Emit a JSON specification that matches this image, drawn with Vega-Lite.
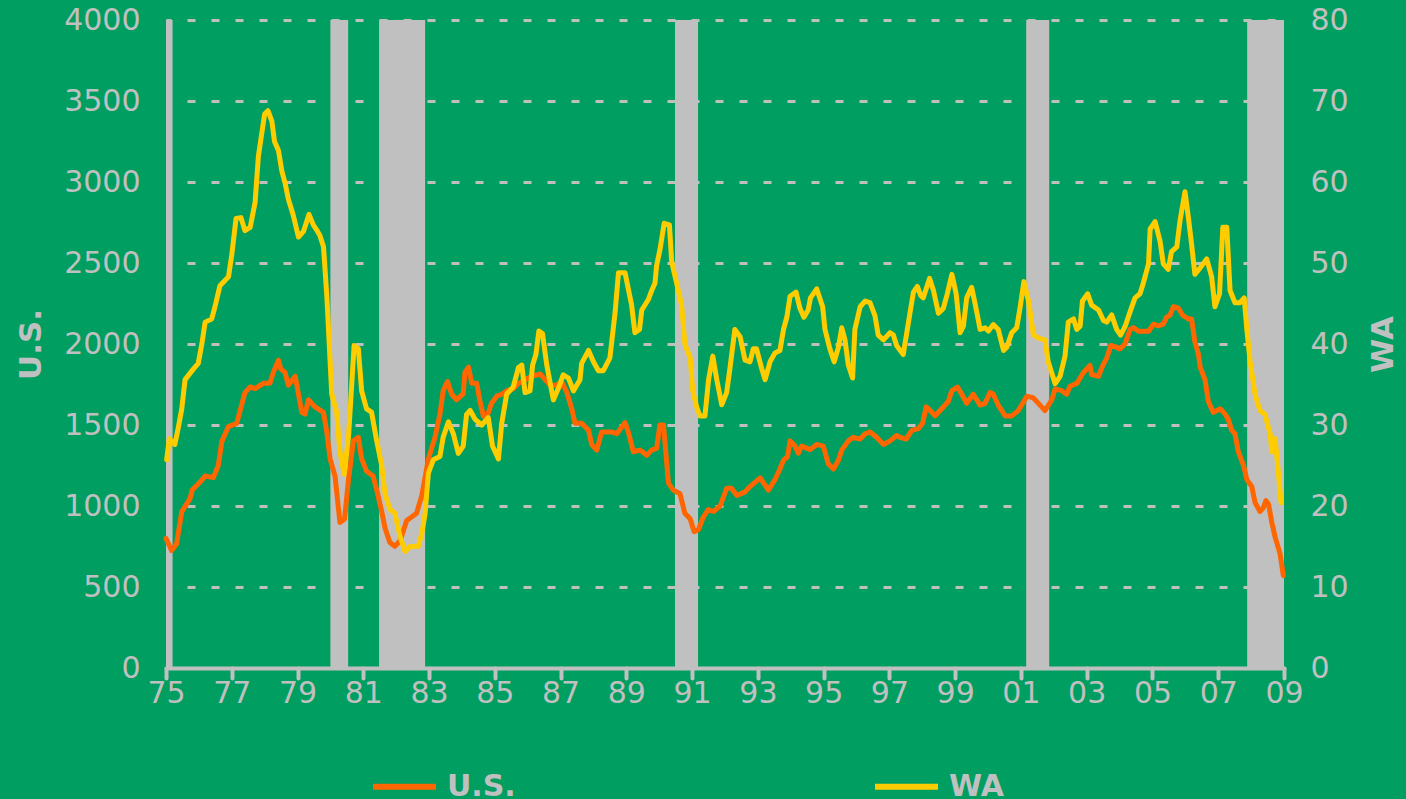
{
  "$schema": "https://vega.github.io/schema/vega-lite/v6.json",
  "autosize": {"type": "none"},
  "width": 1118,
  "height": 648,
  "padding": {"left": 166, "top": 20, "right": 122, "bottom": 131},
  "background": "#009E60",
  "config": {
    "view": {"stroke": null},
    "axis": {
      "labelFont": "DejaVu Sans", "labelFontSize": 30, "labelColor": "#C0C0C0",
      "titleFont": "DejaVu Sans", "titleFontSize": 31, "titleFontWeight": "bold", "titleColor": "#C0C0C0"
    },
    "legend": {
      "orient": "none", "legendX": 204, "legendY": 732, "direction": "horizontal",
      "symbolType": "stroke", "symbolSize": 3969, "symbolStrokeWidth": 6,
      "labelFont": "DejaVu Sans", "labelFontSize": 30, "labelFontWeight": "bold", "labelColor": "#C0C0C0",
      "labelOffset": 8, "columnPadding": 347, "padding": 0
    }
  },
  "datasets": {
    "rec": [
      {"t": 1975.0, "t2": 1975.2},
      {"t": 1980.0, "t2": 1980.54},
      {"t": 1981.48, "t2": 1982.88},
      {"t": 1990.48, "t2": 1991.18},
      {"t": 2001.16, "t2": 2001.86},
      {"t": 2007.88, "t2": 2009.0}
    ],
    "us": [
      {"t":1975.0,"v":800},{"t":1975.17,"v":725},{"t":1975.32,"v":765},{"t":1975.48,"v":965},{"t":1975.73,"v":1045},{"t":1975.8,"v":1100},
      {"t":1976.0,"v":1140},{"t":1976.19,"v":1185},{"t":1976.44,"v":1175},{"t":1976.59,"v":1250},{"t":1976.7,"v":1400},{"t":1976.9,"v":1490},
      {"t":1977.15,"v":1510},{"t":1977.4,"v":1700},{"t":1977.56,"v":1735},{"t":1977.71,"v":1725},{"t":1977.96,"v":1757},
      {"t":1978.16,"v":1757},{"t":1978.27,"v":1828},{"t":1978.42,"v":1900},{"t":1978.49,"v":1846},{"t":1978.62,"v":1824},{"t":1978.72,"v":1746},{"t":1978.93,"v":1801},
      {"t":1979.13,"v":1578},{"t":1979.23,"v":1567},{"t":1979.33,"v":1656},{"t":1979.53,"v":1612},{"t":1979.79,"v":1578},{"t":1979.89,"v":1457},{"t":1979.99,"v":1291},
      {"t":1980.14,"v":1185},{"t":1980.29,"v":898},{"t":1980.43,"v":920},{"t":1980.55,"v":1163},{"t":1980.7,"v":1402},{"t":1980.85,"v":1424},{"t":1980.95,"v":1291},
      {"t":1981.1,"v":1215},{"t":1981.3,"v":1185},{"t":1981.41,"v":1098},{"t":1981.56,"v":966},{"t":1981.66,"v":864},{"t":1981.81,"v":774},{"t":1981.96,"v":751},
      {"t":1982.12,"v":785},{"t":1982.32,"v":910},{"t":1982.47,"v":932},{"t":1982.62,"v":955},{"t":1982.78,"v":1065},{"t":1982.98,"v":1291},
      {"t":1983.18,"v":1424},{"t":1983.33,"v":1565},{"t":1983.43,"v":1712},{"t":1983.56,"v":1768},{"t":1983.69,"v":1690},{"t":1983.84,"v":1656},
      {"t":1984.04,"v":1694},{"t":1984.09,"v":1824},{"t":1984.2,"v":1857},{"t":1984.3,"v":1757},{"t":1984.45,"v":1757},{"t":1984.55,"v":1645},{"t":1984.65,"v":1556},{"t":1984.75,"v":1545},{"t":1984.9,"v":1634},
      {"t":1985.06,"v":1678},{"t":1985.21,"v":1690},{"t":1985.36,"v":1712},{"t":1985.56,"v":1723},{"t":1985.72,"v":1757},{"t":1985.92,"v":1779},
      {"t":1986.12,"v":1801},{"t":1986.38,"v":1815},{"t":1986.53,"v":1780},{"t":1986.68,"v":1746},{"t":1986.88,"v":1746},
      {"t":1987.03,"v":1768},{"t":1987.19,"v":1701},{"t":1987.34,"v":1600},{"t":1987.44,"v":1511},{"t":1987.64,"v":1511},{"t":1987.85,"v":1467},{"t":1987.95,"v":1378},
      {"t":1988.1,"v":1345},{"t":1988.25,"v":1457},{"t":1988.4,"v":1457},{"t":1988.55,"v":1457},{"t":1988.71,"v":1446},{"t":1988.96,"v":1515},
      {"t":1989.06,"v":1457},{"t":1989.21,"v":1335},{"t":1989.42,"v":1345},{"t":1989.62,"v":1313},{"t":1989.77,"v":1345},{"t":1989.92,"v":1356},
      {"t":1990.02,"v":1500},{"t":1990.13,"v":1500},{"t":1990.28,"v":1141},{"t":1990.43,"v":1098},{"t":1990.63,"v":1076},{"t":1990.78,"v":955},{"t":1990.94,"v":921},
      {"t":1991.06,"v":842},{"t":1991.19,"v":853},{"t":1991.34,"v":932},{"t":1991.49,"v":978},{"t":1991.65,"v":966},{"t":1991.85,"v":1000},
      {"t":1992.05,"v":1109},{"t":1992.2,"v":1109},{"t":1992.36,"v":1065},{"t":1992.61,"v":1087},{"t":1992.76,"v":1120},
      {"t":1993.07,"v":1174},{"t":1993.32,"v":1098},{"t":1993.52,"v":1163},{"t":1993.67,"v":1228},{"t":1993.78,"v":1283},{"t":1993.9,"v":1304},{"t":1993.98,"v":1402},
      {"t":1994.13,"v":1370},{"t":1994.23,"v":1326},{"t":1994.33,"v":1370},{"t":1994.59,"v":1348},{"t":1994.79,"v":1380},{"t":1994.99,"v":1370},
      {"t":1995.14,"v":1261},{"t":1995.3,"v":1228},{"t":1995.45,"v":1283},{"t":1995.55,"v":1345},{"t":1995.75,"v":1402},{"t":1995.9,"v":1424},
      {"t":1996.11,"v":1413},{"t":1996.26,"v":1446},{"t":1996.41,"v":1457},{"t":1996.61,"v":1424},{"t":1996.82,"v":1380},
      {"t":1997.02,"v":1402},{"t":1997.22,"v":1435},{"t":1997.32,"v":1424},{"t":1997.51,"v":1413},{"t":1997.68,"v":1467},{"t":1997.88,"v":1478},
      {"t":1998.01,"v":1511},{"t":1998.12,"v":1612},{"t":1998.19,"v":1600},{"t":1998.39,"v":1556},{"t":1998.59,"v":1600},{"t":1998.79,"v":1645},{"t":1998.9,"v":1712},
      {"t":1999.07,"v":1734},{"t":1999.2,"v":1690},{"t":1999.35,"v":1634},{"t":1999.55,"v":1690},{"t":1999.76,"v":1623},{"t":1999.91,"v":1634},
      {"t":2000.06,"v":1701},{"t":2000.16,"v":1690},{"t":2000.31,"v":1623},{"t":2000.52,"v":1556},{"t":2000.72,"v":1556},{"t":2000.92,"v":1589},
      {"t":2001.18,"v":1678},{"t":2001.38,"v":1667},{"t":2001.58,"v":1623},{"t":2001.73,"v":1589},{"t":2001.94,"v":1656},
      {"t":2002.04,"v":1723},{"t":2002.24,"v":1712},{"t":2002.39,"v":1690},{"t":2002.49,"v":1739},{"t":2002.7,"v":1757},{"t":2002.9,"v":1824},
      {"t":2003.1,"v":1868},{"t":2003.15,"v":1812},{"t":2003.36,"v":1801},{"t":2003.49,"v":1868},{"t":2003.61,"v":1913},{"t":2003.73,"v":1991},{"t":2003.91,"v":1980},
      {"t":2004.01,"v":1969},{"t":2004.17,"v":2002},{"t":2004.32,"v":2090},{"t":2004.42,"v":2101},{"t":2004.57,"v":2079},{"t":2004.88,"v":2079},
      {"t":2005.03,"v":2122},{"t":2005.18,"v":2112},{"t":2005.33,"v":2122},{"t":2005.43,"v":2166},{"t":2005.53,"v":2177},{"t":2005.64,"v":2231},{"t":2005.79,"v":2221},{"t":2005.92,"v":2177},
      {"t":2006.09,"v":2155},{"t":2006.19,"v":2155},{"t":2006.29,"v":2013},{"t":2006.4,"v":1935},{"t":2006.45,"v":1857},{"t":2006.6,"v":1779},{"t":2006.7,"v":1645},{"t":2006.85,"v":1578},
      {"t":2007.06,"v":1600},{"t":2007.21,"v":1567},{"t":2007.31,"v":1533},{"t":2007.41,"v":1467},{"t":2007.51,"v":1446},{"t":2007.61,"v":1335},{"t":2007.77,"v":1250},{"t":2007.87,"v":1163},
      {"t":2008.02,"v":1120},{"t":2008.12,"v":1022},{"t":2008.27,"v":966},{"t":2008.37,"v":989},{"t":2008.45,"v":1033},{"t":2008.53,"v":1011},{"t":2008.63,"v":898},{"t":2008.73,"v":808},{"t":2008.88,"v":706},{"t":2008.98,"v":570}
    ],
    "wa": [
      {"t":1975.02,"v":25.7},{"t":1975.1,"v":28.3},{"t":1975.27,"v":27.6},{"t":1975.37,"v":29.6},{"t":1975.48,"v":32},{"t":1975.58,"v":35.6},{"t":1975.83,"v":36.9},{"t":1975.98,"v":37.6},
      {"t":1976.09,"v":40},{"t":1976.19,"v":42.7},{"t":1976.39,"v":43.1},{"t":1976.49,"v":44.6},{"t":1976.64,"v":47.2},{"t":1976.9,"v":48.3},
      {"t":1977.0,"v":51},{"t":1977.13,"v":55.5},{"t":1977.28,"v":55.6},{"t":1977.4,"v":54},{"t":1977.56,"v":54.4},{"t":1977.71,"v":57.5},{"t":1977.81,"v":63.2},
      {"t":1978.0,"v":68.4},{"t":1978.1,"v":68.8},{"t":1978.22,"v":67.5},{"t":1978.3,"v":65},{"t":1978.42,"v":63.9},{"t":1978.52,"v":61.4},{"t":1978.62,"v":59.9},{"t":1978.72,"v":57.9},{"t":1978.87,"v":55.9},
      {"t":1979.03,"v":53.2},{"t":1979.18,"v":53.9},{"t":1979.35,"v":56},{"t":1979.48,"v":54.7},{"t":1979.58,"v":54.1},{"t":1979.68,"v":53.4},{"t":1979.79,"v":52},{"t":1979.89,"v":46},
      {"t":1980.04,"v":33.8},{"t":1980.19,"v":31.6},{"t":1980.29,"v":26.7},{"t":1980.42,"v":23.9},{"t":1980.55,"v":28.5},{"t":1980.65,"v":35.1},{"t":1980.72,"v":39.8},{"t":1980.85,"v":39.4},{"t":1980.95,"v":34.2},
      {"t":1981.1,"v":32},{"t":1981.25,"v":31.6},{"t":1981.41,"v":28},{"t":1981.56,"v":25},{"t":1981.66,"v":21.5},{"t":1981.81,"v":19.6},{"t":1981.96,"v":19.1},
      {"t":1982.12,"v":16.2},{"t":1982.27,"v":14.4},{"t":1982.42,"v":15},{"t":1982.67,"v":15},{"t":1982.78,"v":16.6},{"t":1982.88,"v":19.1},{"t":1982.98,"v":24.1},
      {"t":1983.13,"v":25.7},{"t":1983.33,"v":26.1},{"t":1983.43,"v":28.5},{"t":1983.59,"v":30.4},{"t":1983.74,"v":28.9},{"t":1983.89,"v":26.5},
      {"t":1984.04,"v":27.4},{"t":1984.14,"v":31.3},{"t":1984.25,"v":31.8},{"t":1984.4,"v":30.7},{"t":1984.6,"v":30},{"t":1984.8,"v":30.9},{"t":1984.93,"v":27.4},
      {"t":1985.11,"v":25.8},{"t":1985.21,"v":30.2},{"t":1985.36,"v":33.8},{"t":1985.56,"v":34.7},{"t":1985.72,"v":37.1},{"t":1985.82,"v":37.4},{"t":1985.92,"v":34},
      {"t":1986.07,"v":34.2},{"t":1986.15,"v":37.4},{"t":1986.25,"v":38.7},{"t":1986.34,"v":41.6},{"t":1986.45,"v":41.3},{"t":1986.58,"v":37.4},{"t":1986.78,"v":33.1},{"t":1986.93,"v":34.5},
      {"t":1987.08,"v":36.2},{"t":1987.24,"v":35.8},{"t":1987.39,"v":34.2},{"t":1987.59,"v":35.6},{"t":1987.64,"v":37.6},{"t":1987.85,"v":39.2},
      {"t":1988.0,"v":37.8},{"t":1988.15,"v":36.7},{"t":1988.3,"v":36.7},{"t":1988.5,"v":38.3},{"t":1988.66,"v":44},{"t":1988.76,"v":48.8},{"t":1988.96,"v":48.8},
      {"t":1989.16,"v":44.8},{"t":1989.26,"v":41.4},{"t":1989.4,"v":41.8},{"t":1989.47,"v":44.2},{"t":1989.67,"v":45.5},{"t":1989.77,"v":46.6},{"t":1989.87,"v":47.5},{"t":1989.92,"v":49.7},
      {"t":1990.02,"v":51.6},{"t":1990.15,"v":54.9},{"t":1990.31,"v":54.7},{"t":1990.38,"v":50.1},{"t":1990.53,"v":47.5},{"t":1990.68,"v":44.8},{"t":1990.78,"v":40},{"t":1990.94,"v":38.3},
      {"t":1991.02,"v":34.2},{"t":1991.14,"v":32.2},{"t":1991.24,"v":31.1},{"t":1991.39,"v":31.1},{"t":1991.5,"v":35.6},{"t":1991.63,"v":38.5},{"t":1991.75,"v":35.6},{"t":1991.9,"v":32.5},
      {"t":1992.05,"v":34},{"t":1992.15,"v":37},{"t":1992.3,"v":41.8},{"t":1992.46,"v":40.9},{"t":1992.61,"v":38},{"t":1992.76,"v":37.8},{"t":1992.86,"v":39.4},{"t":1992.96,"v":39.4},
      {"t":1993.12,"v":36.9},{"t":1993.22,"v":35.6},{"t":1993.37,"v":37.8},{"t":1993.52,"v":38.9},{"t":1993.67,"v":39.2},{"t":1993.78,"v":41.8},{"t":1993.88,"v":43.3},{"t":1993.98,"v":45.9},
      {"t":1994.16,"v":46.4},{"t":1994.28,"v":44.4},{"t":1994.4,"v":43.3},{"t":1994.53,"v":44.2},{"t":1994.6,"v":45.7},{"t":1994.79,"v":46.8},{"t":1994.97,"v":44.6},
      {"t":1995.04,"v":41.8},{"t":1995.19,"v":39.4},{"t":1995.32,"v":37.8},{"t":1995.45,"v":39.6},{"t":1995.55,"v":42},{"t":1995.65,"v":40.5},{"t":1995.75,"v":37.4},{"t":1995.88,"v":35.8},{"t":1995.95,"v":41.8},
      {"t":1996.11,"v":44.6},{"t":1996.26,"v":45.3},{"t":1996.41,"v":45.1},{"t":1996.56,"v":43.5},{"t":1996.66,"v":41.1},{"t":1996.82,"v":40.5},
      {"t":1997.02,"v":41.4},{"t":1997.12,"v":41.1},{"t":1997.22,"v":39.8},{"t":1997.42,"v":38.7},{"t":1997.58,"v":42.7},{"t":1997.73,"v":46.4},{"t":1997.85,"v":47.1},{"t":1997.95,"v":46},
      {"t":1998.03,"v":45.7},{"t":1998.22,"v":48.1},{"t":1998.34,"v":46.6},{"t":1998.49,"v":43.8},{"t":1998.64,"v":44.4},{"t":1998.76,"v":46.2},{"t":1998.9,"v":48.6},
      {"t":1999.03,"v":46.2},{"t":1999.15,"v":41.4},{"t":1999.25,"v":42.2},{"t":1999.35,"v":45.7},{"t":1999.5,"v":47},{"t":1999.6,"v":45.1},{"t":1999.76,"v":41.8},{"t":1999.91,"v":42},
      {"t":2000.01,"v":41.6},{"t":2000.16,"v":42.4},{"t":2000.31,"v":41.8},{"t":2000.47,"v":39.2},{"t":2000.57,"v":39.6},{"t":2000.72,"v":41.4},{"t":2000.87,"v":42},{"t":2000.97,"v":44.4},
      {"t":2001.09,"v":47.7},{"t":2001.23,"v":45.3},{"t":2001.38,"v":41.1},{"t":2001.56,"v":40.7},{"t":2001.73,"v":40.5},{"t":2001.83,"v":37.8},
      {"t":2002.04,"v":35.1},{"t":2002.19,"v":36},{"t":2002.34,"v":38.5},{"t":2002.44,"v":42.7},{"t":2002.6,"v":43.1},{"t":2002.7,"v":41.8},{"t":2002.8,"v":42.2},{"t":2002.87,"v":45.3},
      {"t":2003.03,"v":46.2},{"t":2003.15,"v":44.8},{"t":2003.36,"v":44.2},{"t":2003.51,"v":42.9},{"t":2003.61,"v":42.7},{"t":2003.76,"v":43.6},{"t":2003.91,"v":41.8},
      {"t":2004.03,"v":41.1},{"t":2004.17,"v":42.2},{"t":2004.32,"v":44},{"t":2004.47,"v":45.7},{"t":2004.62,"v":46.2},{"t":2004.72,"v":47.5},{"t":2004.88,"v":49.9},{"t":2004.93,"v":54.2},
      {"t":2005.08,"v":55.1},{"t":2005.23,"v":52.7},{"t":2005.33,"v":49.9},{"t":2005.48,"v":49.2},{"t":2005.58,"v":51.4},{"t":2005.74,"v":52},{"t":2005.84,"v":55.3},{"t":2005.99,"v":58.8},
      {"t":2006.09,"v":55.7},{"t":2006.19,"v":52.3},{"t":2006.29,"v":48.6},{"t":2006.45,"v":49.4},{"t":2006.65,"v":50.5},{"t":2006.8,"v":48.3},{"t":2006.9,"v":44.6},
      {"t":2007.04,"v":46.2},{"t":2007.14,"v":54.4},{"t":2007.26,"v":54.4},{"t":2007.36,"v":46.6},{"t":2007.51,"v":45.1},{"t":2007.66,"v":45.1},{"t":2007.79,"v":45.7},{"t":2007.87,"v":41.8},{"t":2007.97,"v":37.8},
      {"t":2008.12,"v":33.8},{"t":2008.27,"v":31.8},{"t":2008.42,"v":31.3},{"t":2008.58,"v":28.9},{"t":2008.63,"v":26.7},{"t":2008.73,"v":28.3},{"t":2008.83,"v":24.1},{"t":2008.91,"v":20.4}
    ]
  },
  "encoding": {
    "x": {
      "field": "t", "type": "quantitative",
      "scale": {"domain": [1975, 2009], "nice": false, "zero": false},
      "axis": {
        "title": null, "values": [1975,1977,1979,1981,1983,1985,1987,1989,1991,1993,1995,1997,1999,2001,2003,2005,2007,2009],
        "labelExpr": "substring(toString(datum.value), 2, 4)",
        "grid": false, "domain": true, "domainColor": "#C0C0C0", "domainWidth": 4, "domainCap": "round",
        "ticks": true, "tickColor": "#C0C0C0", "tickWidth": 4, "tickSize": 10, "tickCap": "round",
        "labelPadding": 0, "labelFlush": false
      }
    }
  },
  "layer": [
    {
      "data": {"name": "rec"},
      "mark": {"type": "rect", "color": "#C0C0C0"},
      "encoding": {"x2": {"field": "t2"}}
    },
    {
      "data": {"name": "us"},
      "mark": {"type": "line", "strokeWidth": 5, "strokeJoin": "round", "strokeCap": "round"},
      "encoding": {
        "y": {
          "field": "v", "type": "quantitative", "scale": {"domain": [0, 4000], "nice": false},
          "axis": {
            "orient": "left", "title": "U.S.", "values": [0,500,1000,1500,2000,2500,3000,3500,4000], "format": "d",
            "domain": false, "ticks": false, "tickSize": 0, "labelPadding": 26,
            "grid": true, "gridColor": "#C0C0C0", "gridWidth": 3, "gridDash": [8, 16], "gridDashOffset": 3,
            "titlePadding": 16, "titleAngle": -90
          }
        },
        "color": {"datum": "U.S.", "type": "nominal",
          "scale": {"domain": ["U.S.", "WA"], "range": ["#FF6600", "#FFCC00"]},
          "legend": {"title": null}}
      }
    },
    {
      "data": {"name": "wa"},
      "mark": {"type": "line", "strokeWidth": 5, "strokeJoin": "round", "strokeCap": "round"},
      "encoding": {
        "y": {
          "field": "v", "type": "quantitative", "scale": {"domain": [0, 80], "nice": false},
          "axis": {
            "orient": "right", "title": "WA", "values": [0,10,20,30,40,50,60,70,80],
            "domain": false, "ticks": false, "tickSize": 0, "labelPadding": 26, "grid": false,
            "titlePadding": 20, "titleAngle": -90, "titleBaseline": "top"
          }
        },
        "color": {"datum": "WA", "type": "nominal"}
      }
    }
  ],
  "resolve": {"scale": {"y": "independent"}, "axis": {"y": "independent"}}
}
